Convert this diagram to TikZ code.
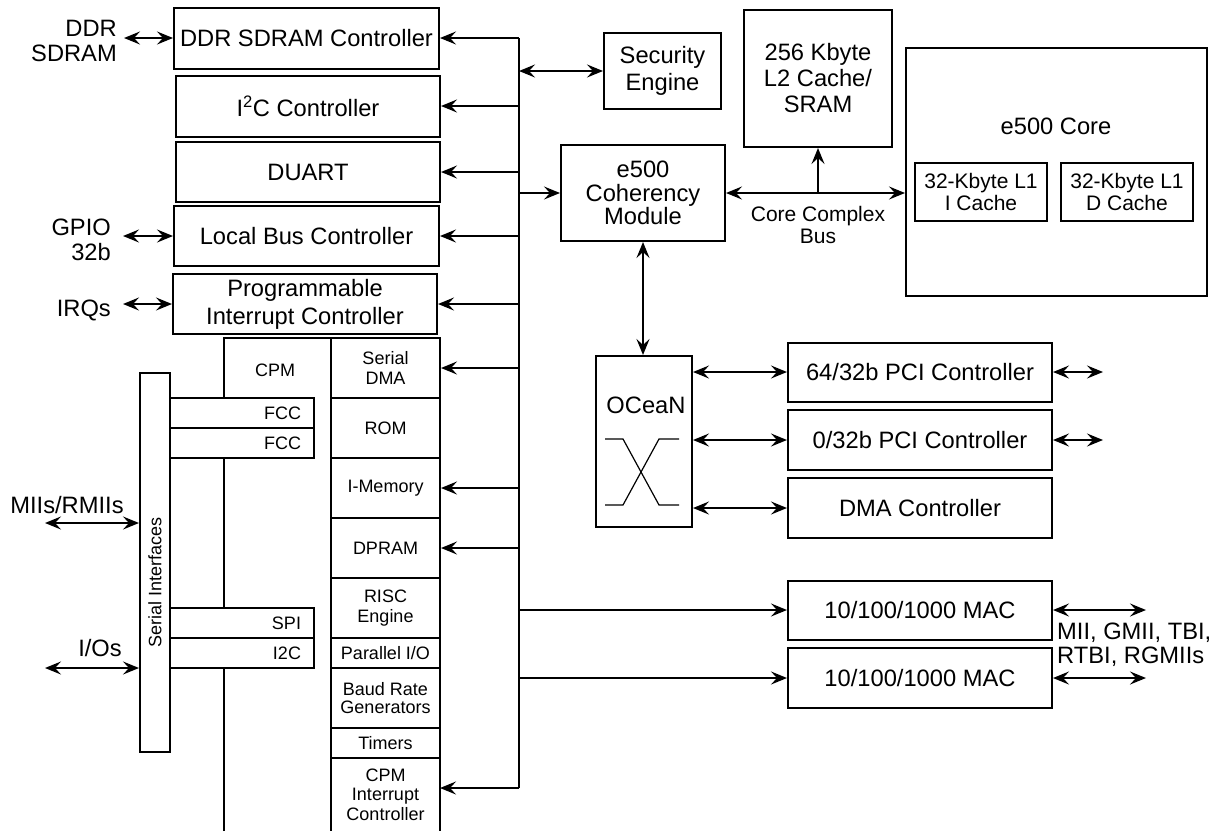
\documentclass[tikz,border=0pt]{standalone}
\usepackage{fontspec}
\setmainfont{Liberation Sans}
\usetikzlibrary{arrows.meta}

\newcommand\bigtxt{\fontsize{23.7}{25}\selectfont}
\newcommand\medtxt{\fontsize{21}{21.5}\selectfont}
\newcommand\smltxt{\fontsize{18}{19.5}\selectfont}

\tikzset{
  blk/.style={draw, line width=2pt, inner sep=2pt, align=center, font=\bigtxt},
  cell/.style={draw, line width=2pt, inner sep=1pt, align=center, font=\smltxt, minimum width=109pt},
  port/.style={draw, fill=white, line width=2pt, minimum width=144pt, minimum height=30pt,
    inner xsep=13pt, inner ysep=0pt, text width=118pt, align=right, font=\smltxt},
  wire/.style={line width=2pt},
  lbl/.style={inner sep=0pt, font=\bigtxt},
}

\begin{document}
\begin{tikzpicture}[x=1pt, y=-1pt, >={Stealth[length=16pt,width=13pt,inset=6pt]}]
  \useasboundingbox (0,0) rectangle (1220,831);

  % system bus
  \coordinate (bustop) at (519,38);
  \coordinate (busbot) at (519,788);

  % controllers on the left
  \node[blk, minimum width=265pt, minimum height=61pt] (ddr)   at (306.5,38)  {DDR SDRAM Controller};
  \node[blk, minimum width=264pt, minimum height=61pt] (i2c)   at (308,106)   {I\textsuperscript{2}C Controller};
  \node[blk, minimum width=264pt, minimum height=60pt] (duart) at (308,172)   {DUART};
  \node[blk, minimum width=265pt, minimum height=60pt] (lbc)   at (306.5,236) {Local Bus Controller};
  \node[blk, minimum width=264pt, minimum height=60pt, font=\fontsize{23.7}{28}\selectfont] (pic) at (305,304) {Programmable\\Interrupt Controller};

  \node[lbl, anchor=east, align=right] (ddrlbl)  at (117,41)  {DDR\\SDRAM};
  \node[lbl, anchor=east, align=right] (gpiolbl) at (111,240) {GPIO\\32b};
  \node[lbl, anchor=east]              (irqlbl)  at (111,310) {IRQs};
  \node[lbl]                           (miilbl)  at (67,505)  {MIIs/RMIIs};
  \node[lbl]                           (iolbl)   at (100,648) {I/Os};
  \coordinate (ddrend)  at (124,38);
  \coordinate (gpioend) at (123,236);
  \coordinate (irqend)  at (123,304);
  \coordinate (miiend)  at (45,523);
  \coordinate (ioend)   at (45,668);

  % CPM
  \draw[line width=2pt] (224,831) -- (224,338) -- (331,338);
  \node[font=\smltxt] (cpmtxt) at (275,370) {CPM};
  \node[draw, line width=2pt, minimum width=30pt, minimum height=379pt, inner sep=0pt] (sibar) at (155,562.5) {};
  \node[rotate=90, font=\smltxt] (sitxt) at (155,582) {Serial Interfaces};
  \node[port] (fcc1) at (242,413) {FCC};
  \node[port] (fcc2) at (242,443) {FCC};
  \node[port] (spi)  at (242,623) {SPI};
  \node[port] (i2cp) at (242,653) {I2C};

  \node[cell, minimum height=60pt] (sdma)   at (385.5,368) {Serial\\DMA};
  \node[cell, minimum height=60pt] (rom)    at (385.5,428) {ROM};
  \node[cell, minimum height=60pt] (imem)   at (385.5,488) {I-Memory};
  \node[cell, minimum height=60pt] (dpram)  at (385.5,548) {DPRAM};
  \node[cell, minimum height=60pt] (risc)   at (385.5,608) {RISC\\Engine};
  \node[cell, minimum height=30pt] (pio)    at (385.5,653) {Parallel I/O};
  \node[cell, minimum height=60pt, font=\fontsize{18}{18}\selectfont] (baud) at (385.5,698) {Baud Rate\\Generators};
  \node[cell, minimum height=30pt] (timers) at (385.5,743) {Timers};
  \node[cell, draw=none, outer sep=0pt, minimum height=73pt] (cpmint) at (385.5,794.5) {CPM\\Interrupt\\Controller};
  \draw[line width=2pt] (cpmint.north west) -- (cpmint.south west)
                        (cpmint.north east) -- (cpmint.south east);

  % core complex
  \node[blk, minimum width=117pt, minimum height=76pt, font=\fontsize{23.7}{27}\selectfont] (sec) at (662.5,71) {Security\\Engine};
  \node[blk, minimum width=148pt, minimum height=137pt, font=\fontsize{23.7}{26}\selectfont] (l2) at (818,78.5) {256 Kbyte\\L2 Cache/\\SRAM};
  \node[blk, minimum width=164pt, minimum height=96pt, font=\fontsize{23.7}{23.5}\selectfont] (coh) at (643,193) {e500\\Coherency\\Module};
  \node[blk, minimum width=301pt, minimum height=248pt] (core) at (1056.5,172) {};
  \node[lbl] (coretxt) at (1056,126) {e500 Core};
  \node[blk, minimum width=132pt, minimum height=58pt, font=\medtxt] (l1i) at (981,192)  {32-Kbyte L1\\I Cache};
  \node[blk, minimum width=132pt, minimum height=58pt, font=\medtxt] (l1d) at (1127,192) {32-Kbyte L1\\D Cache};
  \node[font=\medtxt, align=center, inner sep=0pt] (ccbtxt) at (818,225) {Core Complex\\Bus};

  % OCeaN and its ports
  \node[blk, minimum width=96pt, minimum height=171pt] (ocean) at (644,441.5) {};
  \node[lbl] (oceantxt) at (646,405) {OCeaN};
  \draw[line width=1.2pt] (605,439) -- (623,439) -- (659,505) -- (679,505);
  \draw[line width=1.2pt] (605,505) -- (623,505) -- (659,439) -- (679,439);
  \node[blk, minimum width=264pt, minimum height=59pt] (pci1) at (920,372) {64/32b PCI Controller};
  \node[blk, minimum width=264pt, minimum height=60pt] (pci2) at (920,440) {0/32b PCI Controller};
  \node[blk, minimum width=264pt, minimum height=60pt] (dma)  at (920,508) {DMA Controller};
  \node[blk, minimum width=264pt, minimum height=59pt] (mac1) at (920,610) {10/100/1000 MAC};
  \node[blk, minimum width=264pt, minimum height=60pt] (mac2) at (920,678) {10/100/1000 MAC};
  \node[lbl, anchor=west, align=left, font=\fontsize{23.7}{24}\selectfont] (miitxt) at (1057,645) {MII, GMII, TBI,\\RTBI, RGMIIs};
  \coordinate (pci1out) at (1103,372);
  \coordinate (pci2out) at (1103,440);
  \coordinate (mac1out) at (1146,610);
  \coordinate (mac2out) at (1146,678);

  % connections
  \draw[wire] (bustop) -- (busbot);
  \draw[line width=1.2pt,->] (bustop) -- (ddr.east);
  \draw[wire,<->] (sec.west -| bustop) -- (sec.west);
  \draw[wire,->] (i2c.east -| bustop) -- (i2c.east);
  \draw[wire,->] (duart.east -| bustop) -- (duart.east);
  \draw[wire,->] (coh.west -| bustop) -- (coh.west);
  \draw[wire,->] (lbc.east -| bustop) -- (lbc.east);
  \draw[wire,->] (pic.east -| bustop) -- (pic.east);
  \draw[wire,->] (sdma.east -| bustop) -- (sdma.east);
  \draw[wire,->] (imem.east -| bustop) -- (imem.east);
  \draw[wire,->] (dpram.east -| bustop) -- (dpram.east);
  \draw[wire,->] (busbot) -- (busbot -| cpmint.east);
  \draw[wire,->] (mac1.west -| bustop) -- (mac1.west);
  \draw[wire,->] (mac2.west -| bustop) -- (mac2.west);

  \draw[wire,<->] (ddrend) -- (ddr.west);
  \draw[wire,<->] (gpioend) -- (lbc.west);
  \draw[wire,<->] (irqend) -- (pic.west);
  \draw[wire,<->] (miiend) -- (miiend -| sibar.west);
  \draw[wire,<->] (ioend) -- (ioend -| sibar.west);

  \draw[wire,<->] (coh.east) -- (coh.east -| core.west);
  \draw[wire,->] (l2.south |- coh.east) -- (l2.south);
  \draw[wire,<->] (coh.south) -- (coh.south |- ocean.north);
  \draw[wire,<->] (pci1.west -| ocean.east) -- (pci1.west);
  \draw[wire,<->] (pci2.west -| ocean.east) -- (pci2.west);
  \draw[wire,<->] (dma.west -| ocean.east) -- (dma.west);
  \draw[wire,<->] (pci1.east) -- (pci1out);
  \draw[wire,<->] (pci2.east) -- (pci2out);
  \draw[wire,<->] (mac1.east) -- (mac1out);
  \draw[wire,<->] (mac2.east) -- (mac2out);
\end{tikzpicture}
\end{document}
